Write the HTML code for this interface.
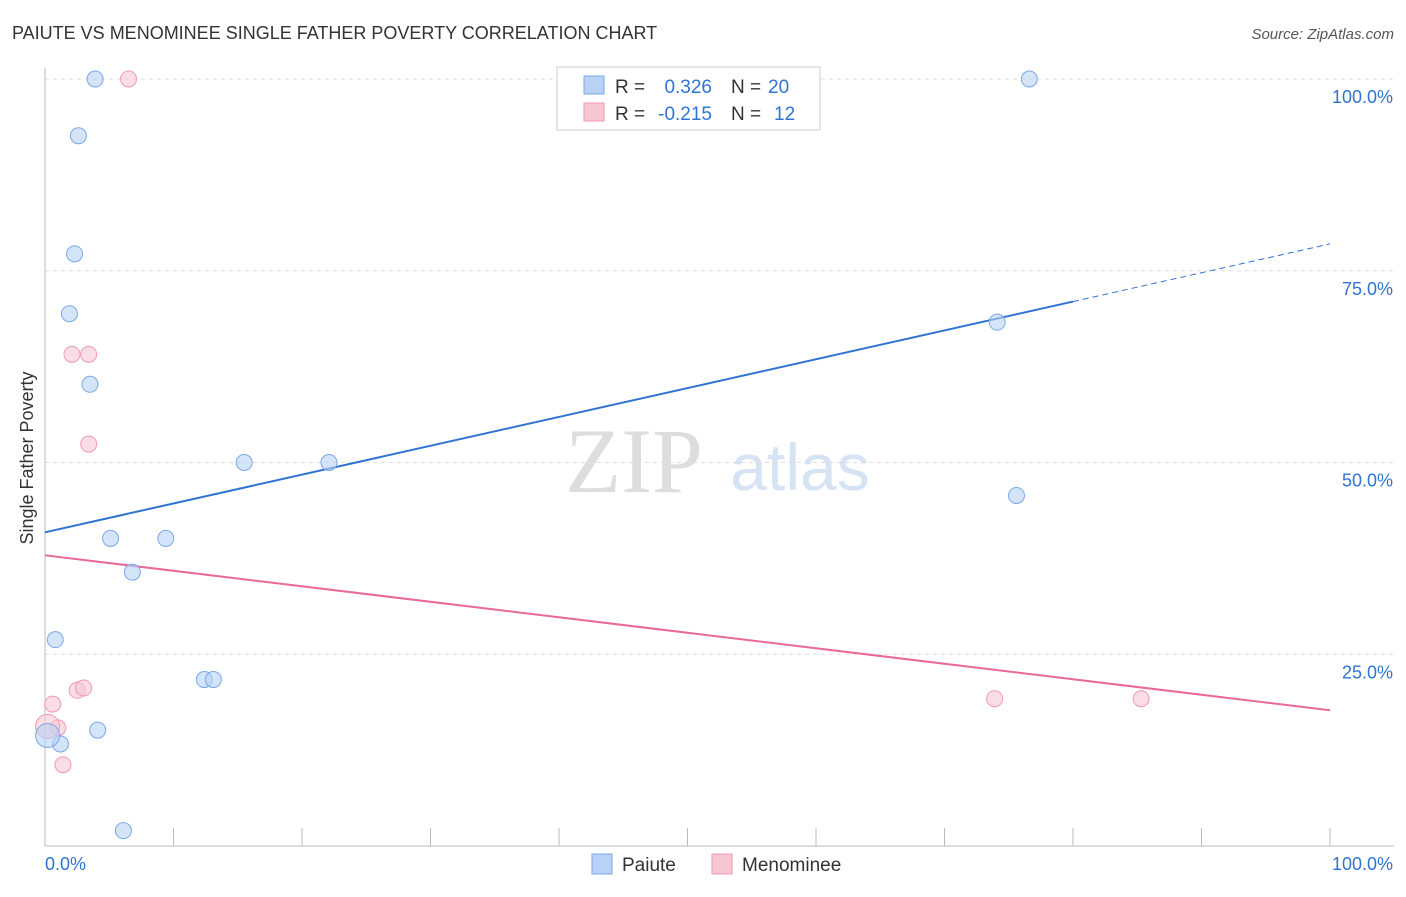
<!DOCTYPE html>
<html><head><meta charset="utf-8"><style>
body{margin:0;background:#fff;font-family:"Liberation Sans",sans-serif;}
</style></head><body>
<svg id="chart" width="1406" height="892" font-family="Liberation Sans, sans-serif">
<text x="12" y="39" font-size="18" fill="#333">PAIUTE VS MENOMINEE SINGLE FATHER POVERTY CORRELATION CHART</text>
<text x="1394" y="39" font-size="15" fill="#555" text-anchor="end" font-style="italic">Source: ZipAtlas.com</text>
<text x="33" y="458" font-size="18" fill="#333" text-anchor="middle" transform="rotate(-90 33 458)">Single Father Poverty</text>
<text x="634" y="492" font-size="92" fill="#ddd" style="font-family:'Liberation Serif',serif" text-anchor="middle">ZIP</text>
<text x="800" y="490" font-size="66" fill="#d5e3f5" text-anchor="middle">atlas</text>
<g id="grid"></g><g id="axes"></g><g id="trends"></g><g id="points"></g>
<g>
<rect x="557" y="67" width="263" height="63" fill="#fff" stroke="#ccc"/>
<rect x="584" y="76" width="20" height="18" fill="#b8d2f5" stroke="#7aa8e6"/>
<rect x="584" y="103" width="20" height="18" fill="#f9c6d4" stroke="#ef9ab3"/>
<text x="615" y="93" font-size="19" fill="#333">R =</text>
<text x="712" y="93" font-size="19" fill="#2f74d0" text-anchor="end">0.326</text>
<text x="731" y="93" font-size="19" fill="#333">N =</text>
<text x="768" y="93" font-size="19" fill="#2f74d0">20</text>
<text x="615" y="120" font-size="19" fill="#333">R =</text>
<text x="712" y="120" font-size="19" fill="#2f74d0" text-anchor="end">-0.215</text>
<text x="731" y="120" font-size="19" fill="#333">N =</text>
<text x="774" y="120" font-size="19" fill="#2f74d0">12</text>
</g>
<g>
<rect x="592" y="854" width="20" height="20" fill="#b8d2f5" stroke="#7aa8e6"/>
<text x="622" y="871" font-size="19" fill="#333">Paiute</text>
<rect x="712" y="854" width="20" height="20" fill="#f9c6d4" stroke="#ef9ab3"/>
<text x="742" y="871" font-size="19" fill="#333">Menominee</text>
</g>
</svg>
<script>
const yTicks=[25,50,75,100];
const yTickLabels=["25.0%","50.0%","75.0%","100.0%"];
const xTickLabels=["0.0%","100.0%"];
const paiuteX=[3.9,2.6,2.3,1.9,3.5,15.5,22.1,5.1,9.4,6.8,0.8,12.4,13.1,4.1,1.2,0.2,6.1,76.6,74.1,75.6];
const paiuteY=[100,92.6,77.2,69.4,60.2,50,50,40.1,40.1,35.7,26.9,21.7,21.7,15.1,13.3,14.4,2.0,100,68.3,45.7];
const menX=[6.5,2.1,3.4,3.4,2.5,3.0,0.6,1.0,1.4,73.9,85.3,0.2];
const menY=[100,64.1,64.1,52.4,20.3,20.6,18.5,15.4,10.6,19.2,19.2,15.6];
const paiuteTrend=[40.9,78.5];
const menTrend=[37.9,17.7];
const NS="http://www.w3.org/2000/svg";
const X=v=>45+v*12.85, Y=v=>846-v*7.67;
function mk(t,a,p){const e=document.createElementNS(NS,t);for(const k in a)e.setAttribute(k,a[k]);p.appendChild(e);return e;}
const grid=document.getElementById('grid'),axes=document.getElementById('axes'),tr=document.getElementById('trends'),pts=document.getElementById('points');
yTicks.forEach((t,i)=>{
 const l=mk('line',{x1:45,x2:1394,y1:Y(t),y2:Y(t),stroke:'#ddd','stroke-dasharray':'4,4'},grid);
 
 
 const tx=mk('text',{x:1393,y:Y(t)+24,'font-size':18,fill:'#2f74d0','text-anchor':'end'},grid);
 tx.textContent=yTickLabels[i];
 
 
});
const ax=mk('line',{x1:45,x2:1394,y1:846,y2:846,stroke:'#bbb'},axes);


const ay=mk('line',{x1:45,x2:45,y1:68,y2:846,stroke:'#bbb'},axes);


for(let i=0;i<=10;i++){const t=mk('line',{x1:X(i*10),x2:X(i*10),y1:828,y2:846,stroke:'#bbb'},axes);
 
 }
[[0,'start',45],[100,'end',1393]].forEach((d,i)=>{const t=mk('text',{x:d[2],y:870,'font-size':18,fill:'#2f74d0','text-anchor':d[1]},axes);t.textContent=xTickLabels[i];
 
 });
const at=v=>paiuteTrend[0]+(paiuteTrend[1]-paiuteTrend[0])*v/100;
let l1=mk('line',{x1:X(0),y1:Y(at(0)),x2:X(80),y2:Y(at(80)),stroke:'#2f74d0','stroke-width':2},tr);


let l2=mk('line',{x1:X(80),y1:Y(at(80)),x2:X(100),y2:Y(at(100)),stroke:'#2f74d0','stroke-width':1,'stroke-dasharray':'6,4'},tr);


let l3=mk('line',{x1:X(0),y1:Y(menTrend[0]),x2:X(100),y2:Y(menTrend[1]),stroke:'#e8699a','stroke-width':2},tr);


menX.forEach((x,i)=>{const c=mk('circle',{cx:X(x),cy:Y(menY[i]),r:i==11?12:8,fill:'#f9c6d4','fill-opacity':0.6,stroke:'#ef9ab3'},pts);
 
 });
paiuteX.forEach((x,i)=>{const c=mk('circle',{cx:X(x),cy:Y(paiuteY[i]),r:i==15?12:8,fill:'#b8d2f5','fill-opacity':0.6,stroke:'#7aa8e6'},pts);
 
 });
</script>
</body></html>
